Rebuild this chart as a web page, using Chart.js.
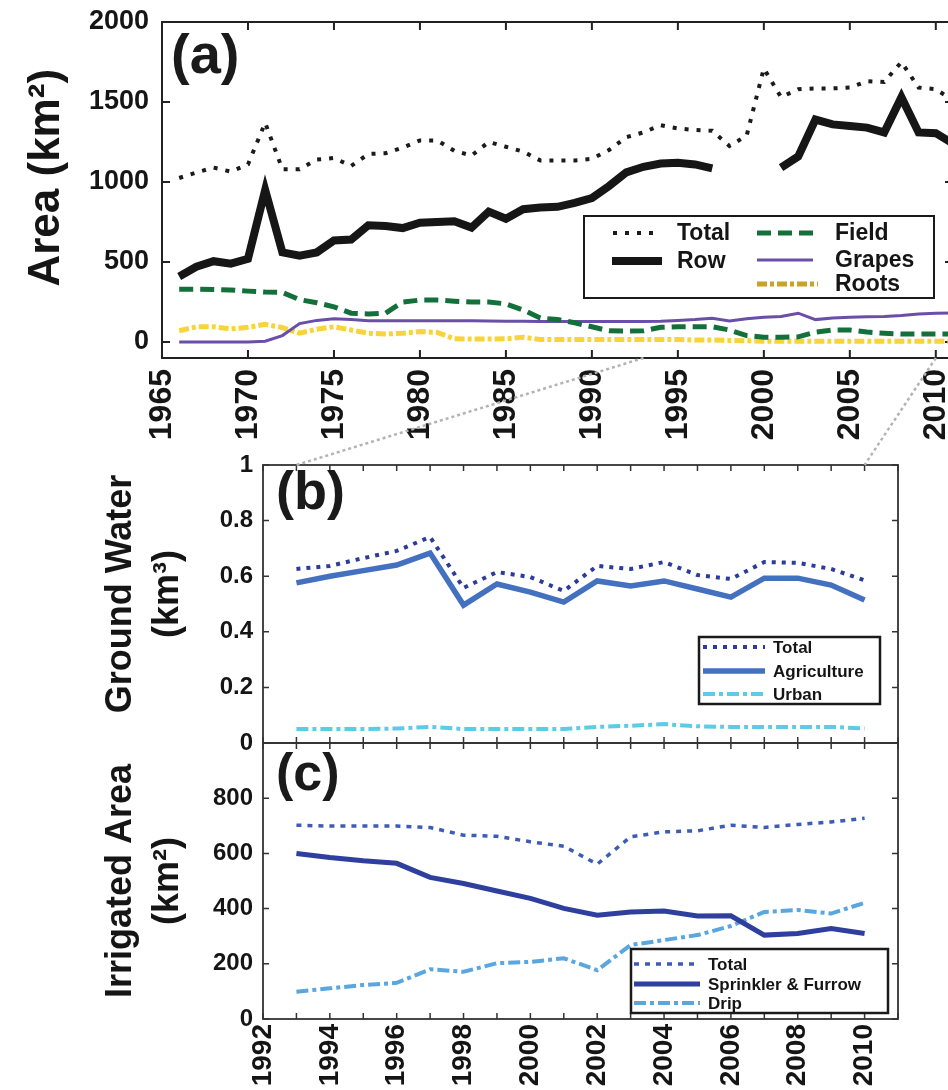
<!DOCTYPE html>
<html>
<head>
<meta charset="utf-8">
<script src="https://cdn.jsdelivr.net/npm/chart.js@4.4.1/dist/chart.umd.min.js"></script>
<style>
  html, body { margin: 0; padding: 0; background: #fff; overflow: hidden; }
  #wrap { position: relative; width: 948px; height: 1090px; overflow: hidden; background: #fff; }
  canvas { position: absolute; left: 0; }
  #cA { top: -8px; }
  #cB { top: 440px; }
  #cC { top: 718px; }
  #over { top: 0; pointer-events: none; }
</style>
</head>
<body>
<div id="wrap">
  <canvas id="cA" width="1000" height="478"></canvas>
  <canvas id="cB" width="948" height="328"></canvas>
  <canvas id="cC" width="948" height="372"></canvas>
  <canvas id="over" width="948" height="1090"></canvas>
</div>
<script>
// --- Dados: painel (a), área por tipo de cultura (km2) ---
const yearsA = [1966, 1967, 1968, 1969, 1970, 1971, 1972, 1973, 1974, 1975,
                1976, 1977, 1978, 1979, 1980, 1981, 1982, 1983, 1984, 1985,
                1986, 1987, 1988, 1989, 1990, 1991, 1992, 1993, 1994, 1995,
                1996, 1997, 1998, 1999, 2000, 2001, 2002, 2003, 2004, 2005,
                2006, 2007, 2008, 2009, 2010, 2011];
const totalA  = [1025, 1060, 1090, 1065, 1110, 1370, 1080, 1080, 1140, 1150,
                 1100, 1175, 1180, 1215, 1260, 1260, 1195, 1165, 1250, 1220,
                 1190, 1135, 1135, 1135, 1145, 1200, 1280, 1310, 1355, 1335,
                 1325, 1320, 1225, 1290, 1710, 1530, 1580, 1585, 1585, 1590,
                 1630, 1625, 1750, 1590, 1580, 1510];
const rowA    = [410, 470, 505, 490, 520, 950, 560, 540, 560, 635,
                 640, 730, 725, 712, 745, 750, 755, 715, 815, 770,
                 830, 840, 845, 870, 900, 975, 1060, 1095, 1115, 1120,
                 1110, 1085, null, null, null, 1090, 1160, 1390, 1360, 1350,
                 1340, 1310, 1530, 1310, 1305, 1240];
const fieldA  = [330, 330, 328, 325, 318, 312, 310, 265, 245, 220,
                 180, 175, 180, 250, 262, 262, 255, 250, 250, 238,
                 200, 150, 140, 120, 95, 70, 68, 70, 92, 95,
                 95, 95, 75, 40, 30, 30, 32, 62, 75, 75,
                 62, 55, 50, 50, 50, 50];
const grapesA = [0, 0, 0, 0, 0, 5, 40, 115, 135, 145,
                 140, 133, 133, 133, 133, 133, 133, 133, 132, 130,
                 130, 128, 128, 128, 128, 128, 128, 128, 130, 135,
                 140, 148, 132, 145, 155, 160, 180, 140, 150, 155,
                 158, 160, 165, 175, 180, 182];
const rootsA  = [70, 95, 95, 82, 92, 110, 90, 55, 80, 95,
                 75, 55, 50, 55, 65, 60, 20, 18, 18, 20,
                 30, 15, 15, 15, 15, 15, 15, 15, 15, 15,
                 12, 12, 10, 8, 5, 5, 5, 5, 5, 5,
                 5, 5, 5, 5, 5, 5];
const xTicksA = [1965, 1970, 1975, 1980, 1985, 1990, 1995, 2000, 2005, 2010];
const yTicksA = [0, 500, 1000, 1500, 2000];

// --- Dados: painéis (b) e (c) ---
const yearsBC = [1993, 1994, 1995, 1996, 1997, 1998, 1999, 2000, 2001,
                 2002, 2003, 2004, 2005, 2006, 2007, 2008, 2009, 2010];
const gwTotal = [0.626, 0.637, 0.665, 0.691, 0.741, 0.558, 0.615, 0.597, 0.547,
                 0.637, 0.626, 0.651, 0.604, 0.590, 0.651, 0.648, 0.626, 0.585];
const gwAgri  = [0.576, 0.600, 0.620, 0.640, 0.683, 0.496, 0.572, 0.543, 0.507,
                 0.583, 0.565, 0.583, 0.554, 0.525, 0.593, 0.593, 0.568, 0.514];
const gwUrban = [0.050, 0.050, 0.050, 0.052, 0.058, 0.050, 0.050, 0.050, 0.050,
                 0.058, 0.062, 0.068, 0.060, 0.058, 0.058, 0.058, 0.058, 0.052];
const irrTotal = [702, 699, 699, 699, 694, 666, 662, 642, 626,
                  561, 660, 678, 682, 702, 694, 705, 714, 727];
const irrSF    = [600, 585, 573, 564, 513, 491, 464, 437, 401,
                  376, 388, 391, 373, 374, 304, 310, 328, 310];
const irrDrip  = [99, 111, 123, 131, 180, 171, 202, 207, 220,
                  177, 268, 286, 304, 337, 388, 395, 382, 421];
const xLabelsC = [1992, 1994, 1996, 1998, 2000, 2002, 2004, 2006, 2008, 2010];
const yTicksB  = [0, 0.2, 0.4, 0.6, 0.8, 1];
const yTicksC  = [0, 200, 400, 600, 800];

// --- Configuração geral ---
const FONT = '"Liberation Sans", Arial, Helvetica, sans-serif';
Chart.defaults.font.family = FONT;
Chart.defaults.font.weight = 'bold';
Chart.defaults.color = '#151515';
Chart.defaults.animation = false;

const pts = (xs, ys) => xs.map((x, i) => ({ x, y: ys[i] }));
const linha = (label, xs, ys, color, width, dash) => ({
    label, data: pts(xs, ys), borderColor: color, borderWidth: width,
    borderDash: dash || [], pointRadius: 0, tension: 0, spanGaps: false,
    borderCapStyle: 'butt', borderJoinStyle: 'miter', fill: false
});
const fixTicks = (lista) => (scale) => { scale.ticks = lista.map(v => ({ value: v })); };

// moldura + marcas de escala para dentro
const frameTicks = {
    id: 'frameTicks',
    beforeDatasetsDraw(chart, args, o) {
        const { ctx, chartArea: a, scales: { x, y } } = chart;
        ctx.save();
        ctx.strokeStyle = o.color;
        ctx.lineWidth = o.tickWidth;
        ctx.beginPath();
        let xs = x.ticks.map(t => t.value);
        if (o.xStep) {
            xs = [];
            for (let v = x.min; v <= x.max; v += o.xStep) xs.push(v);
        }
        xs.forEach(v => {
            const px = x.getPixelForValue(v);
            ctx.moveTo(px, a.bottom); ctx.lineTo(px, a.bottom - o.len);
            ctx.moveTo(px, a.top); ctx.lineTo(px, a.top + o.len);
        });
        y.ticks.forEach(t => {
            const py = y.getPixelForValue(t.value);
            ctx.moveTo(a.left, py); ctx.lineTo(a.left + o.len, py);
            ctx.moveTo(a.right, py); ctx.lineTo(a.right - o.len, py);
        });
        ctx.stroke();
        ctx.lineWidth = o.frameWidth;
        ctx.strokeRect(a.left, a.top, a.right - a.left, a.bottom - a.top);
        ctx.restore();
    }
};

// rótulo do painel e legenda em caixa (coordenadas da página)
const boxLegend = {
    id: 'boxLegend',
    afterDraw(chart, args, o) {
        const ctx = chart.ctx;
        const ox = chart.canvas.offsetLeft, oy = chart.canvas.offsetTop;
        ctx.save();
        ctx.translate(-ox, -oy);
        ctx.fillStyle = '#1a1a1a';
        ctx.textBaseline = 'alphabetic';
        ctx.font = `bold ${o.tag.size}px ${FONT}`;
        ctx.fillText(o.tag.text, o.tag.x, o.tag.y);

        ctx.lineWidth = o.frameWidth;
        ctx.strokeStyle = '#1a1a1a';
        ctx.strokeRect(o.box[0], o.box[1], o.box[2] - o.box[0], o.box[3] - o.box[1]);
        ctx.font = `bold ${o.size}px ${FONT}`;
        ctx.textBaseline = 'middle';
        o.items.forEach(it => {
            const ds = chart.data.datasets[it.i];
            ctx.strokeStyle = it.color || ds.borderColor;
            ctx.lineWidth = ds.borderWidth;
            ctx.setLineDash(ds.borderDash);
            ctx.beginPath();
            ctx.moveTo(it.x1, it.y); ctx.lineTo(it.x2, it.y);
            ctx.stroke();
            ctx.setLineDash([]);
            ctx.fillStyle = '#151515';
            ctx.fillText(ds.label, it.tx, it.y + 1);
        });
        ctx.restore();
    }
};

const tickFont = (size) => ({ size, weight: 'bold' });

// --- Painel (a) ---
const cA = document.getElementById('cA');
const chartA = new Chart(cA, {
    type: 'line',
    data: {
        datasets: [
            linha('Total', yearsA, totalA, '#1b1b1b', 4, [4, 8]),
            linha('Row', yearsA, rowA, '#161616', 8),
            linha('Field', yearsA, fieldA, '#14703a', 5, [14, 7]),
            linha('Grapes', yearsA, grapesA, '#6a4fa8', 3),
            linha('Roots', yearsA, rootsA, '#f7d43a', 5, [10, 3, 4, 3])
        ]
    },
    options: {
        responsive: false,
        layout: { padding: { left: 0, top: 30, right: 47, bottom: 0 } },
        plugins: {
            legend: { display: false },
            tooltip: { enabled: false },
            frameTicks: { color: '#222', tickWidth: 2, frameWidth: 2, len: 8 },
            boxLegend: {
                tag: { text: '(a)', size: 56, x: 171, y: 73 },
                box: [584, 216, 934, 298], frameWidth: 2, size: 23,
                items: [
                    { i: 0, x1: 613, x2: 653, y: 233, tx: 677 },
                    { i: 1, x1: 612, x2: 662, y: 261, tx: 677 },
                    { i: 2, x1: 757, x2: 818, y: 233, tx: 835 },
                    { i: 3, x1: 757, x2: 813, y: 260, tx: 835 },
                    { i: 4, x1: 757, x2: 818, y: 284, tx: 835, color: '#c9a22a' }
                ]
            }
        },
        scales: {
            x: {
                type: 'linear', min: 1965, max: 2011,
                grid: { display: false, drawTicks: false }, border: { display: false },
                afterBuildTicks: fixTicks(xTicksA),
                afterFit: (s) => { s.height = 112; },
                ticks: { minRotation: 90, maxRotation: 90, autoSkip: false, padding: 11,
                         font: tickFont(32), callback: v => String(v) }
            },
            y: {
                min: -100, max: 2000,
                grid: { display: false, drawTicks: false }, border: { display: false },
                afterBuildTicks: fixTicks(yTicksA),
                afterFit: (s) => { s.width = 162; },
                ticks: { padding: 13, font: tickFont(27), callback: v => String(v) },
                title: { display: true, text: '  Area (km²)', color: '#151515',
                         font: { size: 44, weight: 'bold' }, padding: { top: 20, bottom: 0 } }
            }
        }
    },
    plugins: [frameTicks, boxLegend]
});

// --- Painel (b) ---
const cB = document.getElementById('cB');
const chartB = new Chart(cB, {
    type: 'line',
    data: {
        datasets: [
            linha('Total', yearsBC, gwTotal, '#2b3c9a', 4, [4, 6]),
            linha('Agriculture', yearsBC, gwAgri, '#4470c0', 5.5),
            linha('Urban', yearsBC, gwUrban, '#5ecbe6', 4, [12, 4, 4, 4])
        ]
    },
    options: {
        responsive: false,
        layout: { padding: { left: 0, top: 25, right: 50, bottom: 25 } },
        plugins: {
            legend: { display: false },
            tooltip: { enabled: false },
            frameTicks: { color: '#333', tickWidth: 1.5, frameWidth: 1.8, len: 6, xStep: 1 },
            boxLegend: {
                tag: { text: '(b)', size: 54, x: 276, y: 509 },
                box: [699, 637, 880, 704], frameWidth: 2.5, size: 17,
                items: [
                    { i: 0, x1: 703, x2: 765, y: 647, tx: 773 },
                    { i: 1, x1: 703, x2: 765, y: 671, tx: 773 },
                    { i: 2, x1: 703, x2: 765, y: 694, tx: 773 }
                ]
            }
        },
        scales: {
            x: { type: 'linear', min: 1992, max: 2011, display: false },
            y: {
                min: 0, max: 1,
                grid: { display: false, drawTicks: false }, border: { display: false },
                afterBuildTicks: fixTicks(yTicksB),
                afterFit: (s) => { s.width = 263; },
                ticks: { padding: 10, font: tickFont(24), callback: v => String(v) },
                title: { display: true, text: ['  Ground Water', '  (km³)'], color: '#151515',
                         font: { size: 36, weight: 'bold', lineHeight: 1.3 },
                         padding: { top: 98, bottom: 0 } }
            }
        }
    },
    plugins: [frameTicks, boxLegend]
});

// --- Painel (c) ---
const cC = document.getElementById('cC');
const chartC = new Chart(cC, {
    type: 'line',
    data: {
        datasets: [
            linha('Total', yearsBC, irrTotal, '#3d5cb5', 3.5, [5, 6]),
            linha('Sprinkler & Furrow', yearsBC, irrSF, '#2f3f9e', 5),
            linha('Drip', yearsBC, irrDrip, '#5aa6df', 4, [12, 4, 4, 4])
        ]
    },
    options: {
        responsive: false,
        layout: { padding: { left: 0, top: 25, right: 50, bottom: 0 } },
        plugins: {
            legend: { display: false },
            tooltip: { enabled: false },
            frameTicks: { color: '#333', tickWidth: 1.5, frameWidth: 1.8, len: 6, xStep: 1 },
            boxLegend: {
                tag: { text: '(c)', size: 52, x: 276, y: 790 },
                box: [631, 949, 888, 1013], frameWidth: 2.5, size: 17,
                items: [
                    { i: 0, x1: 634, x2: 700, y: 964, tx: 708 },
                    { i: 1, x1: 634, x2: 700, y: 984, tx: 708 },
                    { i: 2, x1: 634, x2: 700, y: 1003, tx: 708 }
                ]
            }
        },
        scales: {
            x: {
                type: 'linear', min: 1992, max: 2011,
                grid: { display: false, drawTicks: false }, border: { display: false },
                afterBuildTicks: fixTicks(xLabelsC),
                afterFit: (s) => { s.height = 372 - 25 - 276; },
                ticks: { minRotation: 90, maxRotation: 90, autoSkip: false, padding: 5,
                         font: tickFont(28), callback: v => String(v) }
            },
            y: {
                min: 0, max: 1000,
                grid: { display: false, drawTicks: false }, border: { display: false },
                afterBuildTicks: fixTicks(yTicksC),
                afterFit: (s) => { s.width = 263; },
                ticks: { padding: 10, font: tickFont(24), callback: v => String(v) },
                title: { display: true, text: ['Irrigated Area', '(km²)'], color: '#151515',
                         font: { size: 36, weight: 'bold', lineHeight: 1.3 },
                         padding: { top: 98, bottom: 0 } }
            }
        }
    },
    plugins: [frameTicks, boxLegend]
});

// --- Linhas de ligação (zoom de (a) para (b)) ---
const over = document.getElementById('over');
const octx = over.getContext('2d');
octx.strokeStyle = '#b3b3b3';
octx.lineWidth = 2.5;
octx.setLineDash([3, 3]);
[yearsBC[0], yearsBC[yearsBC.length - 1]].forEach(ano => {
    const ax = chartA.scales.x.getPixelForValue(ano) + cA.offsetLeft;
    const ay = chartA.chartArea.bottom + cA.offsetTop;
    const bx = chartB.scales.x.getPixelForValue(ano) + cB.offsetLeft;
    const by = chartB.chartArea.top + cB.offsetTop;
    octx.beginPath();
    octx.moveTo(ax, ay);
    octx.lineTo(bx, by);
    octx.stroke();
});
</script>
</body>
</html>
